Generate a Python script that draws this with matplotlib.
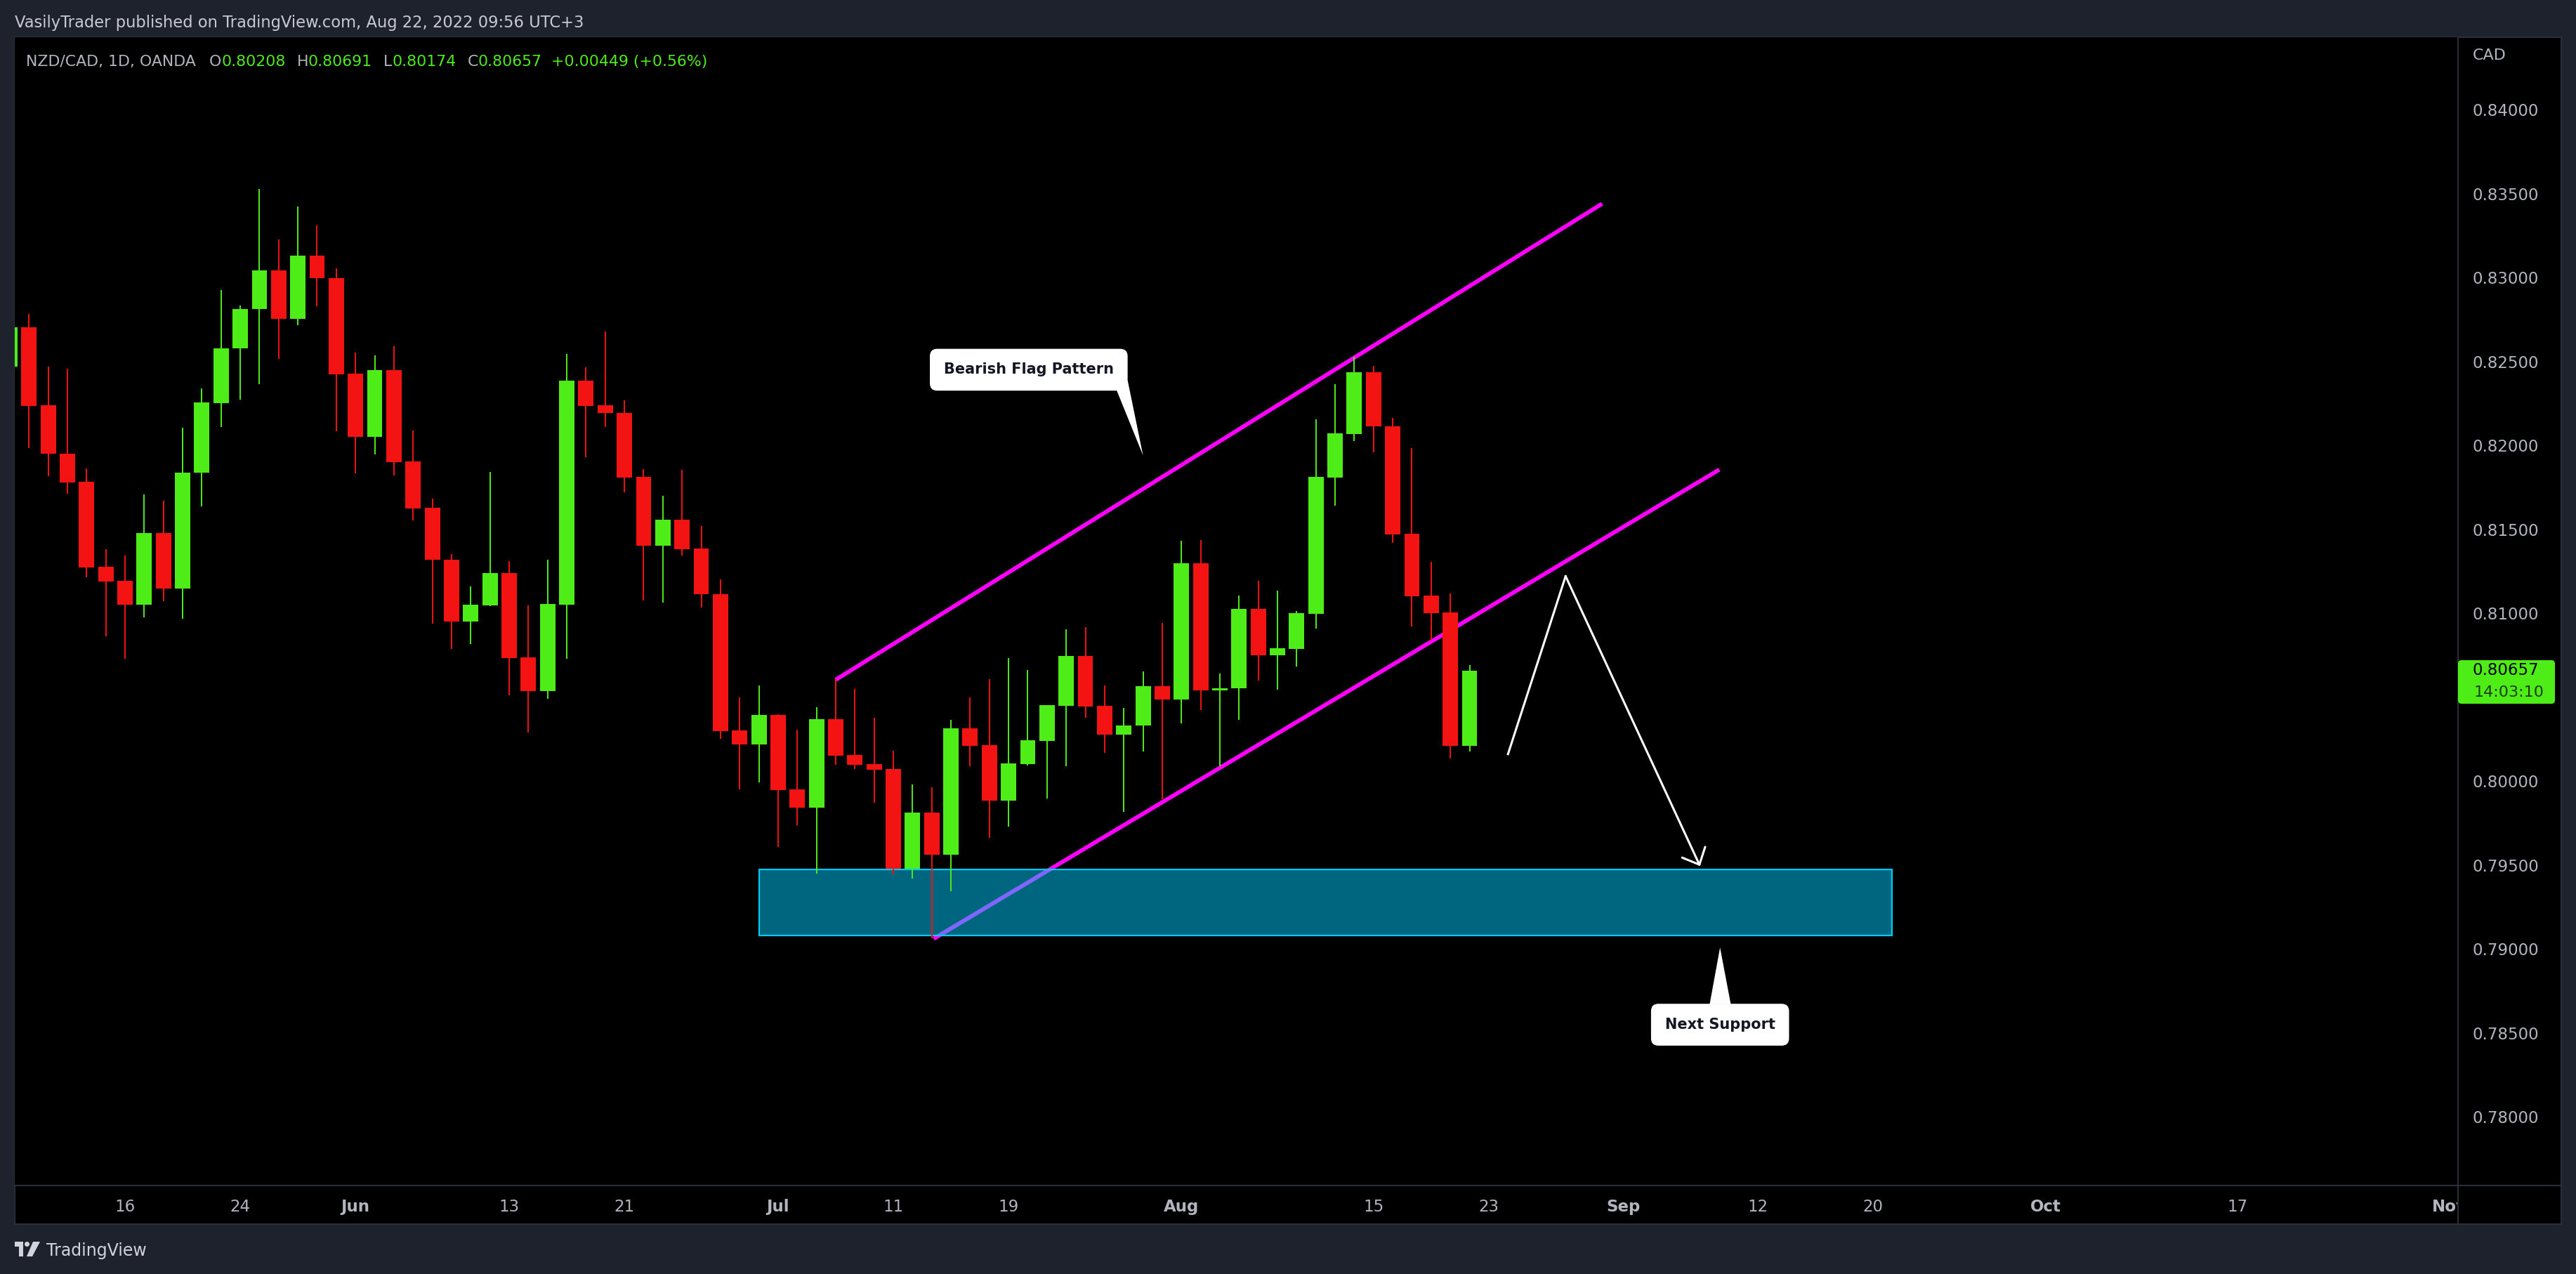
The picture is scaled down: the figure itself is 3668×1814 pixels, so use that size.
import numpy as np
import pandas as pd
import matplotlib
matplotlib.use("Agg")
import matplotlib.pyplot as plt
from matplotlib.patches import Rectangle, FancyBboxPatch, Polygon, Circle
from matplotlib.lines import Line2D
from matplotlib.transforms import IdentityTransform, Bbox

W, H = 3668, 1814

# NZD/CAD daily candles, 6 May - 22 Aug 2022
dates = pd.bdate_range("2022-05-06", "2022-08-22")
opens = [0.82469, 0.82704, 0.82238, 0.81950, 0.81782, 0.81276, 0.81192, 0.81052, 0.81476, 0.81145,
         0.81835, 0.82253, 0.82576, 0.82810, 0.83041, 0.82755, 0.83131, 0.82996, 0.82426, 0.82050,
         0.82448, 0.81903, 0.81628, 0.81318, 0.80949, 0.81045, 0.81239, 0.80736, 0.80535, 0.81052,
         0.82386, 0.82238, 0.82194, 0.81811, 0.81402, 0.81557, 0.81384, 0.81113, 0.80301, 0.80219,
         0.80393, 0.79950, 0.79842, 0.80368, 0.80155, 0.80100, 0.80071, 0.79477, 0.79812, 0.79561,
         0.80314, 0.80213, 0.79883, 0.80100, 0.80238, 0.80448, 0.80745, 0.80448, 0.80277, 0.80329,
         0.80566, 0.80484, 0.81298, 0.80541, 0.80551, 0.81025, 0.80751, 0.80788, 0.80997, 0.81808,
         0.82069, 0.82436, 0.82112, 0.81474, 0.81104, 0.81005, 0.80208]
highs = [0.82780, 0.82783, 0.82469, 0.82456, 0.81863, 0.81380, 0.81344, 0.81707, 0.81670, 0.82104,
         0.82339, 0.82926, 0.82832, 0.83528, 0.83227, 0.83423, 0.83310, 0.83054, 0.82552, 0.82535,
         0.82591, 0.82089, 0.81681, 0.81353, 0.81158, 0.81841, 0.81310, 0.81045, 0.81318, 0.82544,
         0.82465, 0.82678, 0.82268, 0.81859, 0.81698, 0.81854, 0.81519, 0.81201, 0.80496, 0.80569,
         0.80397, 0.80305, 0.80439, 0.80608, 0.80548, 0.80377, 0.80180, 0.79979, 0.79962, 0.80364,
         0.80498, 0.80607, 0.80732, 0.80661, 0.80452, 0.80904, 0.80916, 0.80569, 0.80435, 0.80654,
         0.80941, 0.81431, 0.81434, 0.80641, 0.81104, 0.81193, 0.81134, 0.81012, 0.82155, 0.82365,
         0.82527, 0.82471, 0.82163, 0.81983, 0.81305, 0.81117, 0.80691]
lows = [0.82440, 0.81984, 0.81818, 0.81713, 0.81212, 0.80864, 0.80727, 0.80977, 0.81073, 0.80968,
        0.81634, 0.82110, 0.82270, 0.82366, 0.82516, 0.82714, 0.82830, 0.82082, 0.81831, 0.81944,
        0.81822, 0.81551, 0.80936, 0.80785, 0.80815, 0.81041, 0.80509, 0.80287, 0.80488, 0.80727,
        0.81927, 0.82110, 0.81718, 0.81077, 0.81064, 0.81342, 0.81032, 0.80252, 0.79950, 0.79992,
        0.79608, 0.79736, 0.79449, 0.80098, 0.80071, 0.79872, 0.79445, 0.79420, 0.79062, 0.79343,
        0.80089, 0.79662, 0.79728, 0.80093, 0.79897, 0.80089, 0.80378, 0.80169, 0.79817, 0.80174,
        0.79893, 0.80342, 0.80424, 0.80086, 0.80366, 0.80599, 0.80545, 0.80680, 0.80907, 0.81642,
        0.82026, 0.81959, 0.81419, 0.80922, 0.80837, 0.80136, 0.80174]
closes = [0.82704, 0.82234, 0.81948, 0.81780, 0.81274, 0.81190, 0.81052, 0.81476, 0.81145, 0.81837,
          0.82255, 0.82578, 0.82813, 0.83041, 0.82755, 0.83131, 0.82994, 0.82424, 0.82050, 0.82448,
          0.81901, 0.81624, 0.81316, 0.80949, 0.81050, 0.81239, 0.80731, 0.80535, 0.81054, 0.82386,
          0.82234, 0.82192, 0.81807, 0.81402, 0.81557, 0.81380, 0.81111, 0.80298, 0.80219, 0.80393,
          0.79946, 0.79842, 0.80368, 0.80152, 0.80096, 0.80068, 0.79477, 0.79812, 0.79561, 0.80314,
          0.80209, 0.79883, 0.80105, 0.80243, 0.80452, 0.80745, 0.80445, 0.80277, 0.80331, 0.80566,
          0.80484, 0.81298, 0.80541, 0.80553, 0.81025, 0.80751, 0.80790, 0.80999, 0.81812, 0.82071,
          0.82436, 0.82111, 0.81470, 0.81102, 0.81001, 0.80208, 0.80657]

tick_dates = ["2022-05-16", "2022-05-24", "2022-06-01", "2022-06-13", "2022-06-21", "2022-07-01",
              "2022-07-11", "2022-07-19", "2022-08-01", "2022-08-15", "2022-08-23", "2022-09-01",
              "2022-09-12", "2022-09-20", "2022-10-03", "2022-10-17", "2022-11-01"]
tick_labels = ["16", "24", "Jun", "13", "21", "Jul", "11", "19", "Aug", "15", "23", "Sep",
               "12", "20", "Oct", "17", "Nov"]
months = ["Jun", "Jul", "Aug", "Sep", "Oct", "Nov"]
price_ticks = [0.780, 0.785, 0.790, 0.795, 0.800, 0.805, 0.810, 0.815, 0.820, 0.825, 0.830, 0.835, 0.840]

# drawings (bar number from 6 May, price)
upper_x = [43.0, 82.9]
upper_y = [0.80603, 0.83439]
lower_x = [48.1, 89.0]
lower_y = [0.79060, 0.81855]
zone_x = [39.0, 98.0]
zone_y = [0.79081, 0.79474]
path_x = [78.0, 81.0, 88.0]
path_y = [0.80160, 0.81220, 0.79493]
flag_pos = (53.05, 0.82450)
flag_tail = [(57.6, 0.82335), (58.2, 0.82386), (59.0, 0.81940)]
support_pos = (89.04, 0.78548)
support_tail = [(88.5, 0.78670), (89.6, 0.78670), (89.04, 0.79008)]

BG = "#1e222d"
SEP = "#2a2e39"
GRAY = "#b2b5be"
GREEN = "#4eed17"
RED = "#f31313"
MAGENTA = "#ff00ff"

plt.rcParams["font.family"] = ["DejaVu Sans"]

fig = plt.figure(figsize=(W / 100, H / 100), dpi=100, facecolor=BG)

def px(x, y):
    # pixel from top-left -> display coords
    return x, H - y

# black panel behind chart, price axis and time axis
fig.add_artist(Rectangle((21, H - 1743), 3647 - 21, 1743 - 53, transform=IdentityTransform(),
                         fc="black", ec=SEP, lw=1.5, zorder=-1))

ax = fig.add_axes([21 / W, 1 - 1688 / H, (3500 - 21) / W, (1688 - 53) / H])
ax.set_facecolor("black")
for s in ax.spines.values():
    s.set_visible(False)
ax.set_xlim(0.26, 127.46)
ax.set_ylim(0.77590, 0.84431)

o = np.array(opens)
c = np.array(closes)
hi = np.array(highs)
lo = np.array(lows)
x = np.arange(len(dates))
cols = np.where(c >= o, GREEN, RED)
ax.vlines(x, lo, hi, colors=cols, lw=1.4, zorder=5)
ax.bar(x, np.maximum(np.abs(c - o), 0.00007), width=0.8, bottom=np.minimum(o, c),
       color=cols, linewidth=0, zorder=5.5)

# flag channel
ax.plot(upper_x, upper_y, color=MAGENTA, lw=4.2, solid_capstyle="butt", zorder=3)
ax.plot(lower_x, lower_y, color=MAGENTA, lw=4.2, solid_capstyle="butt", zorder=3)

# support zone
ax.add_patch(Rectangle((zone_x[0], zone_y[0]), zone_x[1] - zone_x[0], zone_y[1] - zone_y[0],
                       fc=(0, 0.8, 1, 0.5), ec="#00c8f8", lw=1.6, zorder=4))

# projected path
ax.plot(path_x[:2], path_y[:2], color="white", lw=2.2, zorder=6)
ax.annotate("", xy=(path_x[2], path_y[2]), xytext=(path_x[1], path_y[1]),
            arrowprops=dict(arrowstyle="->,head_length=1.4,head_width=1.3", color="white",
                            lw=2.2, shrinkA=0, shrinkB=0, mutation_scale=10), zorder=6)

# callouts
box = dict(boxstyle="round,pad=0.95,rounding_size=0.5", fc="white", ec="none")
ax.text(*flag_pos, "Bearish Flag Pattern", ha="center", va="center", fontsize=15,
        fontweight="bold", color="#131722", bbox=box, zorder=7)
ax.add_patch(Polygon(flag_tail, closed=True, fc="white", ec="none", zorder=7))
ax.text(*support_pos, "Next Support", ha="center", va="center", fontsize=15,
        fontweight="bold", color="#131722", bbox=box, zorder=7)
ax.add_patch(Polygon(support_tail, closed=True, fc="white", ec="none", zorder=7))

# axes ticks (the 0.805 label sits under the last-price tag)
ax.yaxis.tick_right()
ax.set_yticks(price_ticks)
ax.set_yticklabels(["" if abs(v - 0.805) < 1e-9 else f"{v:.5f}" for v in price_ticks])
ax.tick_params(axis="y", length=0, pad=15, labelsize=16.5, labelcolor=GRAY)
tick_pos = [np.busday_count("2022-05-06", d) for d in tick_dates]
ax.set_xticks(tick_pos)
ax.set_xticklabels(tick_labels)
ax.tick_params(axis="x", length=0, pad=14, labelsize=16.5, labelcolor=GRAY)
clip = Bbox.from_extents(21, 0, 3500, H)
for t in ax.xaxis.get_major_ticks():
    t.label1.set_clip_box(clip)
    t.label1.set_clip_on(True)
for t in ax.get_xticklabels():
    if t.get_text() in months:
        t.set_fontweight("bold")

# separators
fig.add_artist(Line2D([3500, 3500], [H - 53, H - 1743], transform=IdentityTransform(),
                      color=SEP, lw=1.5, zorder=2))
fig.add_artist(Line2D([21, 3647], [H - 1688, H - 1688], transform=IdentityTransform(),
                      color=SEP, lw=1.5, zorder=2))

# last price label
yd = ax.transData.transform((0, closes[-1]))[1]
fig.add_artist(FancyBboxPatch((3500, yd - 47), 138, 62, boxstyle="round,pad=0,rounding_size=5",
                              transform=IdentityTransform(), fc=GREEN, ec="none", zorder=3))
fig.text(3521, yd, f"{closes[-1]:.5f}", transform=IdentityTransform(), fontsize=16.5,
         color="black", va="center", ha="left", zorder=4)
fig.text(3523, yd - 31, "14:03:10", transform=IdentityTransform(), fontsize=16,
         color="#1d3d0c", va="center", ha="left", zorder=4)
fig.text(3521, H - 79, "CAD", transform=IdentityTransform(), fontsize=16, color=GRAY,
         va="center", ha="left")

# header
fig.text(21, H - 39, "VasilyTrader published on TradingView.com, Aug 22, 2022 09:56 UTC+3",
         transform=IdentityTransform(), fontsize=16.3, color="#c8cad2", va="baseline", ha="left")

renderer = fig.canvas.get_renderer()
pieces = [("NZD/CAD, 1D, OANDA", GRAY, 0), ("O", GRAY, 19), ("0.80208", GREEN, 0),
          ("H", GRAY, 16), ("0.80691", GREEN, 0), ("L", GRAY, 16), ("0.80174", GREEN, 0),
          ("C", GRAY, 16), ("0.80657", GREEN, 0), ("+0.00449 (+0.56%)", GREEN, 13)]
xx = 37
for txt, col, gap in pieces:
    xx += gap
    t = fig.text(xx, H - 94, txt, transform=IdentityTransform(), fontsize=15.8, color=col,
                 va="baseline", ha="left")
    xx += t.get_window_extent(renderer).width

# footer logo
LOGO = "#d1d4dc"
fig.add_artist(Rectangle(px(21, 1775), 12, 7, transform=IdentityTransform(), fc=LOGO, ec="none"))
fig.add_artist(Rectangle(px(27, 1789), 6, 21, transform=IdentityTransform(), fc=LOGO, ec="none"))
fig.add_artist(Circle(px(38.5, 1771.5), 3.5, transform=IdentityTransform(), fc=LOGO, ec="none"))
fig.add_artist(Polygon([px(47, 1768), px(57, 1768), px(46, 1789), px(38, 1789)],
                       transform=IdentityTransform(), fc=LOGO, ec="none"))
fig.text(66, H - 1788, "TradingView", transform=IdentityTransform(), fontsize=17,
         color=LOGO, va="baseline", ha="left")

fig.savefig("out.png", dpi=100, facecolor=BG)
